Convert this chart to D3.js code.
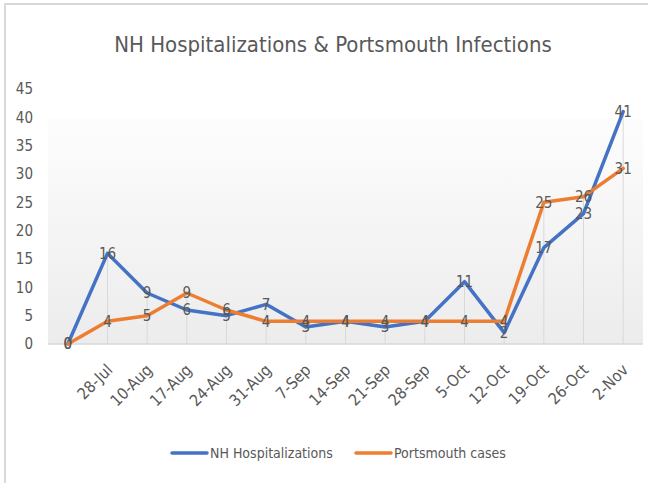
<!DOCTYPE html>
<html>
<head>
<meta charset="utf-8">
<script src="https://cdn.jsdelivr.net/npm/d3@7"></script>
<style>
  body { margin: 0; background: #fff; }
  text { font-family: "Liberation Sans Narrow", "DejaVu Sans Condensed", sans-serif; }
</style>
</head>
<body>
<div id="vis"></div>
<script>
// Weekly values
var weeks = ["", "28-Jul", "10-Aug", "17-Aug", "24-Aug", "31-Aug", "7-Sep", "14-Sep",
             "21-Sep", "28-Sep", "5-Oct", "12-Oct", "19-Oct", "26-Oct", "2-Nov"];
var hospitalizations = [0, 16, 9, 6, 5, 7, 3, 4, 3, 4, 11, 2, 17, 23, 41];
var portsmouthCases = [0, 4, 5, 9, 6, 4, 4, 4, 4, 4, 4, 4, 25, 26, 31];
var yTicks = [0, 5, 10, 15, 20, 25, 30, 35, 40, 45];
var seriesNames = ["NH Hospitalizations", "Portsmouth cases"];
var seriesColors = ["#4472C4", "#ED7D31"];

var width = 648, height = 483;
var margin = { top: 89, right: 5, bottom: 139, left: 48 };

var svg = d3.select("#vis")
    .append("svg")
    .attr("width", width)
    .attr("height", height);

// light frame round the chart
svg.append("rect")
    .attr("x", 5)
    .attr("y", 4)
    .attr("width", width + 20)
    .attr("height", height + 20)
    .attr("fill", "none")
    .attr("stroke", "#d9d9d9")
    .attr("stroke-width", 2);

var x = d3.scaleBand()
    .domain(d3.range(weeks.length))
    .range([margin.left, width - margin.right])
    .padding(0);
var cx = function(i) { return x(i) + x.bandwidth() / 2; };

var y = d3.scaleLinear()
    .domain([0, 45])
    .range([height - margin.bottom, margin.top]);

// plot area gradient
var grad = svg.append("defs").append("linearGradient")
    .attr("id", "plotGrad")
    .attr("x1", 0).attr("y1", 0).attr("x2", 0).attr("y2", 1);
grad.append("stop").attr("offset", "0%").attr("stop-color", "#fdfdfd");
grad.append("stop").attr("offset", "100%").attr("stop-color", "#ececec");

svg.append("rect")
    .attr("x", margin.left)
    .attr("y", y(45) + 29)
    .attr("width", width - margin.right - margin.left)
    .attr("height", y(0) - y(45) - 29)
    .attr("fill", "url(#plotGrad)");

// drop lines from the higher point to the axis
svg.selectAll(".drop")
    .data(d3.range(weeks.length))
    .enter()
    .append("line")
    .attr("class", "drop")
    .attr("x1", cx)
    .attr("x2", cx)
    .attr("y1", function(i) { return y(Math.max(hospitalizations[i], portsmouthCases[i])); })
    .attr("y2", y(0))
    .attr("stroke", "#d9d9d9")
    .attr("stroke-width", 1);

// x axis line
svg.append("line")
    .attr("x1", margin.left)
    .attr("x2", width - margin.right)
    .attr("y1", y(0))
    .attr("y2", y(0))
    .attr("stroke", "#d9d9d9")
    .attr("stroke-width", 1.5);

// y tick labels
svg.selectAll(".yLabel")
    .data(yTicks)
    .enter()
    .append("text")
    .attr("class", "yLabel")
    .attr("x", 33)
    .attr("y", function(d) { return y(d); })
    .attr("dy", "0.35em")
    .attr("text-anchor", "end")
    .attr("font-size", "15px")
    .attr("fill", "#595959")
    .text(function(d) { return d; });

// x tick labels, rotated
svg.selectAll(".xLabel")
    .data(weeks)
    .enter()
    .append("text")
    .attr("class", "xLabel")
    .attr("transform", function(d, i) { return "translate(" + (cx(i) + 6) + "," + (y(0) + 27) + ") rotate(-45)"; })
    .attr("text-anchor", "end")
    .attr("font-size", "16px")
    .attr("fill", "#595959")
    .text(function(d) { return d; });

// lines
var line = d3.line()
    .x(function(d, i) { return cx(i); })
    .y(function(d) { return y(d); });

[hospitalizations, portsmouthCases].forEach(function(values, s) {
    svg.append("path")
        .datum(values)
        .attr("d", line)
        .attr("fill", "none")
        .attr("stroke", seriesColors[s])
        .attr("stroke-width", 3.5)
        .attr("stroke-linejoin", "round")
        .attr("stroke-linecap", "round");
});

// data labels centred on the points
[hospitalizations, portsmouthCases].forEach(function(values, s) {
    svg.selectAll(".lab" + s)
        .data(values)
        .enter()
        .append("text")
        .attr("class", "lab" + s)
        .attr("x", function(d, i) { return cx(i); })
        .attr("y", function(d) { return y(d); })
        .attr("dy", "0.35em")
        .attr("text-anchor", "middle")
        .attr("font-size", "15px")
        .attr("fill", "#595959")
        .text(function(d) { return d; });
});

// title
svg.append("text")
    .attr("x", 333)
    .attr("y", 52)
    .attr("text-anchor", "middle")
    .attr("font-size", "22px")
    .attr("fill", "#595959")
    .text("NH Hospitalizations & Portsmouth Infections");

// legend
var legendX = [172, 356];
var legend = svg.selectAll(".legend")
    .data(seriesNames)
    .enter()
    .append("g")
    .attr("class", "legend")
    .attr("transform", function(d, i) { return "translate(" + legendX[i] + ",453)"; });
legend.append("line")
    .attr("x1", 0)
    .attr("x2", 35)
    .attr("stroke", function(d, i) { return seriesColors[i]; })
    .attr("stroke-width", 3.5)
    .attr("stroke-linecap", "round");
legend.append("text")
    .attr("x", 38)
    .attr("dy", "0.35em")
    .attr("font-size", "14px")
    .attr("fill", "#595959")
    .text(function(d) { return d; });
</script>
</body>
</html>
